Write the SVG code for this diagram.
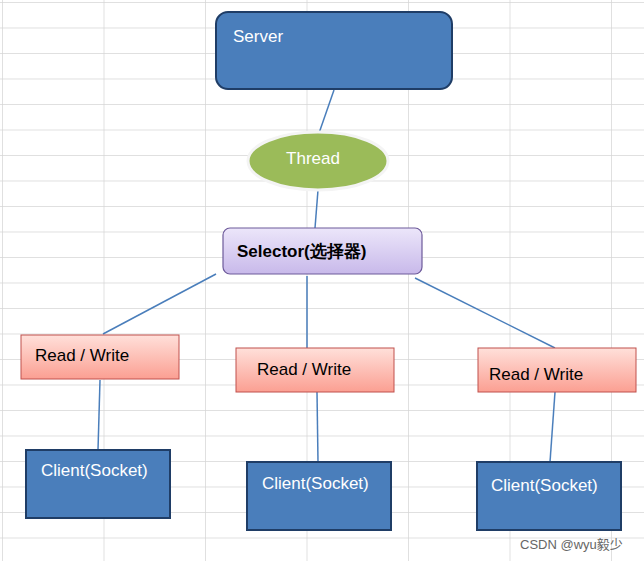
<svg xmlns="http://www.w3.org/2000/svg" width="644" height="561" viewBox="0 0 644 561">
<defs>
<pattern id="grid" x="2" y="2" width="101.5" height="25.5" patternUnits="userSpaceOnUse">
<path d="M0 0H101.5M0 0V25.5" stroke="#d6d6d6" stroke-width="1.5" fill="none"/>
</pattern>
<linearGradient id="sel" x1="0" y1="0" x2="0" y2="1"><stop offset="0" stop-color="#ece6fa"/><stop offset="1" stop-color="#c8b9ea"/></linearGradient>
<linearGradient id="rw" x1="0" y1="0" x2="0" y2="1"><stop offset="0" stop-color="#ffe0da"/><stop offset="1" stop-color="#fb9f92"/></linearGradient>
</defs>
<style>
.blue{fill:#4a7ebb;stroke:#1f3d66;stroke-width:2}
.rw{fill:url(#rw);stroke:#c0504d;stroke-width:1}
.lt{font-family:"Liberation Sans",Arial,sans-serif;font-size:17px;fill:#fff}
.dk{font-family:"Liberation Sans",Arial,sans-serif;font-size:17px;fill:#000}
.ln{stroke:#4a7ebb;stroke-width:1.5;fill:none}
</style>
<rect width="644" height="561" fill="#fff"/>
<rect width="644" height="561" fill="url(#grid)"/>
<g id="connectors">
<line class="ln" x1="334" y1="90" x2="318" y2="136"/>
<line class="ln" x1="318" y1="190" x2="315" y2="228"/>
<line class="ln" x1="216" y1="274" x2="103" y2="334"/>
<line class="ln" x1="307" y1="276" x2="307" y2="348"/>
<line class="ln" x1="415" y1="278" x2="555" y2="348"/>
<line class="ln" x1="100" y1="380" x2="98" y2="450"/>
<line class="ln" x1="317" y1="392" x2="318" y2="462"/>
<line class="ln" x1="555" y1="392" x2="550" y2="462"/>
</g>
<g id="server"><rect class="blue" x="216" y="12" width="236" height="77" rx="12"/><text class="lt" x="233" y="42">Server</text></g>
<g id="thread"><ellipse cx="318" cy="161" rx="70" ry="29" fill="#9bbb59" stroke="#f4f4f4" stroke-width="3"/><text class="lt" x="313" y="164" text-anchor="middle" fill="#f2f2f2">Thread</text></g>
<g id="selector"><rect x="223" y="228" width="199" height="46" rx="7" fill="url(#sel)" stroke="#6d5a9a" stroke-width="1.2"/><text class="dk" x="237" y="257" font-weight="bold" font-family="'Liberation Sans','Noto Sans CJK SC',sans-serif">Selector(选择器)</text></g>
<g id="rw1"><rect class="rw" x="21" y="335" width="158" height="44"/><text class="dk" x="35" y="361">Read / Write</text></g>
<g id="rw2"><rect class="rw" x="236" y="348" width="158" height="44"/><text class="dk" x="257" y="375">Read / Write</text></g>
<g id="rw3"><rect class="rw" x="478" y="348" width="158" height="44"/><text class="dk" x="489" y="380">Read / Write</text></g>
<g id="c1"><rect class="blue" x="26" y="450" width="144" height="68"/><text class="lt" x="41" y="476">Client(Socket)</text></g>
<g id="c2"><rect class="blue" x="247" y="462" width="144" height="68"/><text class="lt" x="262" y="489">Client(Socket)</text></g>
<g id="c3"><rect class="blue" x="477" y="462" width="144" height="68"/><text class="lt" x="491" y="491">Client(Socket)</text></g>
<text x="520" y="549" font-family="'Liberation Sans','Noto Sans CJK SC',sans-serif" font-size="13" fill="#666">CSDN @wyu毅少</text>
</svg>
